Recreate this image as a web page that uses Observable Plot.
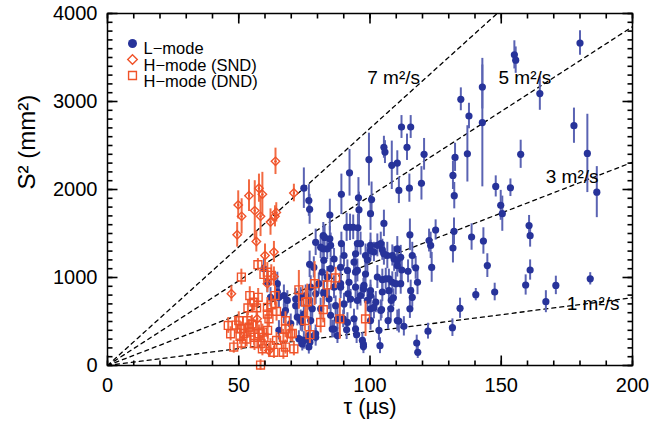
<!DOCTYPE html>
<html><head><meta charset="utf-8">
<script src="https://cdn.jsdelivr.net/npm/d3@7"></script>
<script src="https://cdn.jsdelivr.net/npm/@observablehq/plot@0.6"></script>
<style>body{margin:0;background:#fff} svg{font-family:"Liberation Sans",Arial,Helvetica,sans-serif}</style>
</head><body><div id="chart"></div>
<script>
// [tau (µs), S^2 (mm^2), error]
const lMode = [
[155,3530,160],[155.5,3470,150],[180,3665,140],[142.8,3165,250],[142.8,2760,730],[134.6,3025,130],[137.7,2835,145],
[164.7,3090,190],[177.7,2725,200],[182.8,2410,445],[186.4,1970,290],[157.4,2400,160],[147.9,2035,120],[153.5,2020,100],
[137.1,2405,320],[132.4,2365,160],[131.6,2160,160],[132.1,1930,150],[120.6,2400,180],[119.6,2070,190],[115,2015,160],
[112,2710,130],[115.5,2710,130],[114.1,2480,150],[110.4,2300,140],[108.3,2275,275],[105.3,2480,125],[105.7,2425,130],
[111,1990,150],[99.6,2340,300],[92.2,2190,265],[89.1,1945,230],[95.6,1905,230],[100.6,1885,200],[84.7,1710,180],
[95.8,1770,200],[100.2,1725,190],[105.3,1615,150],[115.2,1485,180],[125,1540,115],[132,1525,150],[131.6,1335,170],
[138.7,1460,150],[143.2,1415,150],[149.8,1820,170],[150.4,1725,200],[160.6,1590,115],[161,1475,130],[161,1085,115],
[144.7,1135,135],[123.5,1115,170],[159.3,915,115],[170.8,910,105],[183.9,985,70],[167,725,125],[147.5,835,100],
[140.3,805,70],[134.3,650,115],[131.4,430,100],[122.1,390,90],[117.8,255,90],[118.2,150,70],[103.8,225,90],
[103.4,400,115],[97.5,240,80],[87.6,340,90],[111,505,135],[112.9,445,110],[115.2,645,110],[104.4,635,100],
[104.7,975,120],[107.2,985,110],[108.9,770,100],[108.1,740,120],[111.7,1230,135],[112.1,1085,140],[111.7,930,120],
[114.5,1070,130],[118.1,945,140],[115.5,850,120],[116.1,775,110],[104.7,1315,120],[102.8,1365,130],[101.5,1290,110],
[100.2,1305,120],[99,1200,140],[96.4,1385,130],[93.9,1175,120],[92.4,1570,150],[91.1,1570,160],[93.6,1570,140],
[95.4,1565,150],[89.1,1385,130],[84.7,1440,140],[83.7,1325,120],[94.5,1060,120],[88.8,890,130],[91.6,815,110],
[97.5,870,120],[95.2,740,110],[100.2,645,120],[93.9,530,110],[89.8,530,100],[86.3,415,100],[94.5,415,110],
[100.2,795,120],[101.5,660,130],[108.5,945,120],[106.6,1250,150],[109.2,1210,140],[110.4,1135,130],[83.7,1005,120],
[82.4,815,130],[122.5,1420,130],[123.1,1365,150],[110.4,1325,140],[116.1,1250,150],[117.4,1110,130],[74.8,2015,230],
[76.7,1875,180],[77,1775,170],[82.2,1475,150],[82.7,1455,140],[82.2,1325,130],[59.6,1100,110],[60.9,945,120],
[62.1,775,110],[64.7,930,130],[65.3,775,120],[64.7,835,110],[67.2,795,120],[68.5,740,110],[71.7,755,120],
[71.7,680,110],[73.6,775,110],[75.5,795,120],[77,1150,150],[76.7,740,110],[78,645,120],[74.8,585,110],[72.3,550,100],
[69.8,475,110],[73.6,510,120],[72.9,305,90],[74.8,285,100],[76.7,340,110],[67.8,625,100],[65.3,400,110],[77.1,265,90],
[76.7,210,80],[79.3,360,100],[85.6,415,100],[97.1,285,90],[97.5,215,80],[94.9,350,100],[91.1,405,110],[74.2,490,110],
[77.4,510,120],[81.2,645,120],[85,570,130],[87.6,530,120],[91.4,490,110],[100.2,510,110],[104.1,625,120],[106.9,510,100],
[107.9,645,130],[110.4,510,120],[102.2,720,120],[99,740,130],[96.4,795,120],[92.6,755,110],[90.1,700,120],[86.9,680,110],
[84.4,755,120],[82.4,835,130],[79.3,815,120],[77.4,890,130],[80.5,930,120],[86.3,890,130],[88.8,930,120],[92,945,130],
[94.5,890,120],[97.7,910,130],[100.2,850,120],[104.7,835,110],[107.2,850,120],[109.8,930,130],[106,985,120],
[102.8,1005,130],[98.3,1040,120],[95.2,1080,130],[91.4,1080,120],[88.8,1115,130],[85,1100,120],[81.8,1060,110],
[78.6,1115,120],[82.4,1195,130],[86.3,1210,120],[90.1,1250,130],[94.5,1270,140],[98.3,1250,130],[105.3,1270,130],
[108.5,1250,120],[110.4,1195,130],[81.2,1345,130],[85,1365,140],[95.2,1385,130],[100.2,1365,140],[104.1,1385,130],
[79.3,1400,150],[74.2,245,80],[79.3,320,100],[67.2,585,110]
];
const hModeSND = [
[64,2320,150],[71,1960,100],[57.7,2015,160],[59,1945,250],[53.9,1930,180],[49.8,1825,160],[56.1,1760,340],
[51.1,1695,200],[58.3,1695,230],[64.3,1740,110],[63.8,1695,120],[62.1,1630,150],[49.4,1485,140],[56.7,1410,120],
[63.4,1290,120],[60,1250,130],[47.2,815,90],[63.4,1010,110],[60.9,930,100],[57,530,90],[61.5,170,80]
];
const hModeDND = [
[51,1005,90],[57.3,1145,70],[59.6,1035,100],[60.9,1060,110],[62.4,1025,120],[54.2,795,100],[55.8,720,100],
[53.5,655,90],[56.8,655,100],[60.9,660,110],[62.4,690,100],[64.4,615,110],[46,455,90],[50,510,100],[51,415,80],
[53.2,510,100],[53.9,435,90],[57,455,100],[59,380,90],[60.9,585,110],[61.5,530,100],[46.9,360,80],[52,365,90],
[55.8,320,90],[57.7,360,100],[59.6,320,90],[48.1,210,70],[51,255,80],[59,190,80],[63.4,150,70],[58.3,5,60],
[64.4,285,90],[67,150,80],[67,320,90],[67.8,415,100],[69.8,360,90],[71,190,80],[67.8,510,100],[57.4,775,100],
[63.8,795,110],[72.9,860,220],[75.5,720,160],[75.2,510,120],[70.4,365,100],[67.8,210,80],[62.1,225,80],
[78.9,930,250],[83.7,915,150],[86.9,995,120],[76.1,725,200],[82.2,635,150],[81.2,490,120],[88.5,530,230],
[98.3,530,200],[77.1,350,100],[49,460,100],[55,470,100],[50.5,330,90],[54.5,380,100],[58.5,250,90],[61,400,100],
[56,250,80],[53,300,90]
];
const diffusivities = [1, 3, 5, 7];           // m^2/s
const lineLabels = [
  {text: "1 m²/s", tau: 185, s2: 705},
  {text: "3 m²/s", tau: 177, s2: 2140},
  {text: "5 m²/s", tau: 159, s2: 3270},
  {text: "7 m²/s", tau: 109, s2: 3270}
];
const legendLabels = ["L\u2212mode", "H\u2212mode (SND)", "H\u2212mode (DND)"];
const xMajor = [0, 50, 100, 150, 200];
const yMajor = [0, 1000, 2000, 3000, 4000];
const xMinor = d3.range(0, 201, 10);
const yMinor = d3.range(0, 4001, 100);
const K = 3.85; // S^2 = K * D * tau

const rows = a => a.map(([tau, s2, err]) => ({tau, s2, lo: s2 - err, hi: s2 + err}));
const L = rows(lMode), SND = rows(hModeSND), DND = rows(hModeDND);
const ref = diffusivities.flatMap(D => [{D, tau: 0, s2: 0}, {D, tau: 200, s2: K * D * 200}]);

const blue = "#27339a", blueBar = "#5a63b3";
const orange = "#f0532a", orangeBar = "#f26a42";

const W = 651, H = 430, ML = 107, MR = 19, MT = 13, MB = 65;
const FW = W - ML - MR, FH = H - MT - MB;
const X0 = 0, X1 = 200, Y0 = 0, Y1 = 4000;
// inward ticks as links; pixel length converted to data units
const ticksX = (vals, side, len) => {
  const d = (Y1 - Y0) * len / FH;
  const ya = side === "bottom" ? Y0 : Y1, yb = side === "bottom" ? Y0 + d : Y1 - d;
  return Plot.link(vals, {x1: v => v, x2: v => v, y1: () => ya, y2: () => yb, stroke: "black", strokeWidth: 1.6});
};
const ticksY = (vals, side, len) => {
  const d = (X1 - X0) * len / FW;
  const xa = side === "left" ? X0 : X1, xb = side === "left" ? X0 + d : X1 - d;
  return Plot.link(vals, {y1: v => v, y2: v => v, x1: () => xa, x2: () => xb, stroke: "black", strokeWidth: 1.6});
};

const chart = Plot.plot({
  width: W, height: H,
  marginLeft: ML, marginRight: MR, marginTop: MT, marginBottom: MB,
  x: {domain: [X0, X1]},
  y: {domain: [Y0, Y1]},
  style: {fontFamily: '"Liberation Sans", Arial, sans-serif', background: "#fff"},
  marks: [
    Plot.line(ref, {x: "tau", y: "s2", z: "D", stroke: "black", strokeWidth: 1.3, strokeDasharray: "4,4", clip: true}),
    Plot.ruleX(L, {x: "tau", y1: "lo", y2: "hi", stroke: blueBar, strokeWidth: 2}),
    Plot.dot(L, {x: "tau", y: "s2", r: 3.6, fill: blue}),
    Plot.ruleX(DND, {x: "tau", y1: "lo", y2: "hi", stroke: orangeBar, strokeWidth: 2}),
    Plot.ruleX(SND, {x: "tau", y1: "lo", y2: "hi", stroke: orangeBar, strokeWidth: 2}),
    Plot.dot(DND, {x: "tau", y: "s2", symbol: "square2", r: 5, stroke: orange, strokeWidth: 1.4, fill: "none"}),
    Plot.dot(SND, {x: "tau", y: "s2", symbol: "diamond2", r: 3.8, stroke: orange, strokeWidth: 1.4, fill: "none"}),
    Plot.dot(SND, {x: "tau", y: "s2", r: 1.2, fill: orange}),
    Plot.text(lineLabels, {x: "tau", y: "s2", text: "text", fontSize: 19, fill: "black"}),
    // legend
    Plot.dot([legendLabels[0]], {frameAnchor: "top-left", dx: 25, dy: 30, r: 4.5, fill: blue}),
    Plot.dot([legendLabels[1]], {frameAnchor: "top-left", dx: 25, dy: 46, symbol: "diamond2", r: 4.3, stroke: orange, strokeWidth: 1.4}),
    Plot.dot([legendLabels[2]], {frameAnchor: "top-left", dx: 25, dy: 62, symbol: "square2", r: 5, stroke: orange, strokeWidth: 1.4}),
    Plot.text([legendLabels[0]], {frameAnchor: "top-left", dx: 36, dy: 29, text: d => d, textAnchor: "start", fontSize: 16.5, fill: "black"}),
    Plot.text([legendLabels[1]], {frameAnchor: "top-left", dx: 36, dy: 45.5, text: d => d, textAnchor: "start", fontSize: 16.5, fill: "black"}),
    Plot.text([legendLabels[2]], {frameAnchor: "top-left", dx: 36, dy: 62, text: d => d, textAnchor: "start", fontSize: 16.5, fill: "black"}),
    // inward ticks on all four sides
    ticksX(xMinor, "bottom", 5), ticksX(xMajor, "bottom", 10),
    ticksX(xMinor, "top", 5), ticksX(xMajor, "top", 10),
    ticksY(yMinor, "left", 5), ticksY(yMajor, "left", 10),
    ticksY(yMinor, "right", 5), ticksY(yMajor, "right", 10),
    Plot.axisX({ticks: xMajor, tickSize: 0, tickPadding: 12, anchor: "bottom", fontSize: 20, label: null, tickFormat: d3.format("d")}),
    Plot.axisY({ticks: yMajor, tickSize: 0, tickPadding: 10, anchor: "left", fontSize: 20, label: null, tickFormat: d3.format("d")}),
    Plot.frame({stroke: "black", strokeWidth: 1.5}),
    Plot.text(["S² (mm²)"], {frameAnchor: "left", dx: -80, rotate: -90, fontSize: 24, fill: "black"}),
    Plot.text(["τ (µs)"], {frameAnchor: "bottom", dy: 48, fontSize: 22, fill: "black"})
  ]
});
document.getElementById("chart").appendChild(chart);
</script>
</body></html>
